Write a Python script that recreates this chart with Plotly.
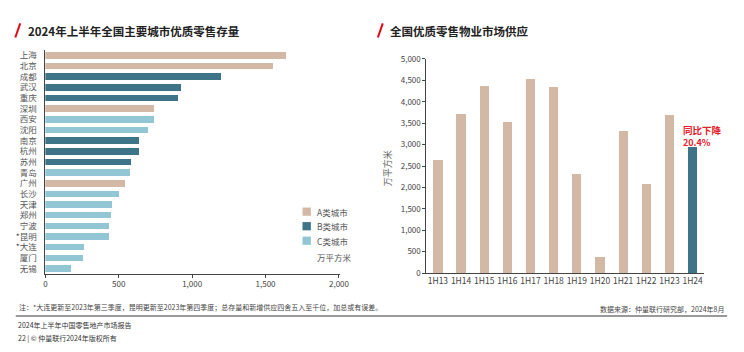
import plotly.graph_objects as go

W, H = 744, 352
def px(x): return x / W
def py(y): return 1 - y / H

FONT = "Noto Sans CJK SC, Open Sans, sans-serif"

# ---- Left chart data ----
cities = ["上海", "北京", "成都", "武汉", "重庆", "深圳", "西安", "沈阳", "南京", "杭州",
          "苏州", "青岛", "广州", "长沙", "天津", "郑州", "宁波", "*昆明", "*大连", "厦门", "无锡"]
stock = [1640, 1550, 1198, 925, 907, 739, 737, 699, 639, 635,
         585, 578, 545, 505, 456, 449, 436, 431, 261, 255, 176]
city_class = ["A", "A", "B", "B", "B", "A", "C", "C", "B", "B",
              "B", "C", "A", "C", "C", "C", "C", "C", "C", "C", "C"]
class_order = ["A", "B", "C"]
class_names = {"A": "A类城市", "B": "B类城市", "C": "C类城市"}
class_colors = {"A": "#D2B8A5", "B": "#3E7487", "C": "#93C6D4"}

# ---- Right chart data ----
periods = ["1H13", "1H14", "1H15", "1H16", "1H17", "1H18", "1H19", "1H20", "1H21", "1H22", "1H23", "1H24"]
supply = [2640, 3726, 4376, 3523, 4541, 4337, 2308, 378, 3326, 2090, 3693, 2940]
supply_colors = ["#D2B8A5"] * 11 + ["#3E7487"]

x_ticks_left = [0, 500, 1000, 1500, 2000]
y_ticks_right = list(range(0, 5001, 500))

fig = go.Figure()

for cls in class_order:
    ys = [c for c, k in zip(cities, city_class) if k == cls]
    xs = [v for v, k in zip(stock, city_class) if k == cls]
    fig.add_trace(go.Bar(
        x=xs, y=ys, orientation="h", name=class_names[cls],
        marker=dict(color=class_colors[cls], line=dict(width=0)),
        xaxis="x", yaxis="y", showlegend=False))

fig.add_trace(go.Bar(
    x=periods, y=supply, marker=dict(color=supply_colors, line=dict(width=0)),
    xaxis="x2", yaxis="y2", showlegend=False, width=0.4))

# reference line at 1H24 level
fig.add_trace(go.Scatter(
    x=[-0.2, len(periods) - 1 - 0.2], y=[supply[-1], supply[-1]],
    mode="lines", line=dict(color="#4FA8C4", width=1.2, dash="dot"),
    xaxis="x2", yaxis="y2", showlegend=False, hoverinfo="skip"))

axis_grey = "#444444"
tick_font = dict(family=FONT, size=8, color="#444444")

fig.update_layout(
    width=W, height=H, margin=dict(l=0, r=0, t=0, b=0),
    paper_bgcolor="white", plot_bgcolor="white",
    barmode="stack", bargap=0.39, showlegend=False,
    font=dict(family=FONT, color="#333333"),
    xaxis=dict(domain=[px(44), px(343.5)], range=[0, 2010], tickvals=x_ticks_left,
               tickformat=",d", showgrid=False, zeroline=False, showline=True,
               linecolor=axis_grey, linewidth=1, ticks="outside", ticklen=3,
               tickcolor=axis_grey, tickfont=tick_font, anchor="y"),
    yaxis=dict(domain=[py(276.5), py(45.5)], type="category", categoryorder="array",
               categoryarray=cities, autorange="reversed", showgrid=False, zeroline=False,
               tickmode="array", tickvals=cities, ticktext=cities,
               showline=True, linecolor=axis_grey, linewidth=1, ticks="",
               ticklabelstandoff=6,
               tickfont=dict(family=FONT, size=8.5, color="#555555"), anchor="x"),
    xaxis2=dict(domain=[px(430.7), px(712.7)], type="category", showgrid=False,
                zeroline=False, showline=True, linecolor=axis_grey, linewidth=1,
                ticks="", tickfont=dict(family=FONT, size=8.5, color="#444444"),
                anchor="y2", range=[-0.5, len(periods) - 0.5]),
    yaxis2=dict(domain=[py(275.7), py(54.7)], range=[0, 5000], tickvals=y_ticks_right,
                tickformat=",d", showgrid=False, zeroline=False, showline=True,
                linecolor=axis_grey, linewidth=1, ticks="outside", ticklen=3,
                tickcolor=axis_grey, tickfont=tick_font, anchor="x2"),
)

def ann(text, x, y, xanchor="left", size=8.5, color="#333333", **kw):
    return dict(text=text, x=px(x), y=py(y), xref="paper", yref="paper",
                xanchor=xanchor, yanchor="middle", showarrow=False,
                font=dict(family=FONT, size=size, color=color), **kw)

annotations = [
    ann("<b>2024年上半年全国主要城市优质零售存量</b>", 24, 25.5, size=11.5, color="#222222"),
    ann("<b>全国优质零售物业市场供应</b>", 392, 25.5, size=11.5, color="#222222"),
    ann("万平方米", 318, 258.7, size=8.5, color="#555555"),
    ann("万平方米", 391.3, 168, xanchor="center", size=9, color="#666666", textangle=-90),
    ann("<b>同比下降</b>", 689, 128.5, size=9.5, color="#E5202B"),
    ann("<b>20.4%</b>", 689, 140.5, size=9, color="#E5202B"),
    ann("注：*大连更新至2023年第三季度，昆明更新至2023年第四季度；总存量和新增供应四舍五入至千位，加总或有误差。",
        15, 311, size=7, color="#444444"),
    ann("数据来源：仲量联行研究部，2024年8月", 735, 312.5, xanchor="right", size=7, color="#444444"),
    ann("2024年上半年中国零售地产市场报告", 14, 329.5, size=7, color="#333333"),
    ann("22 | © 仲量联行2024年版权所有", 14, 342.5, size=7, color="#333333"),
]

shapes = [
    dict(type="line", xref="paper", yref="paper", x0=px(13.5), y0=py(32.5), x1=px(18.5), y1=py(18),
         line=dict(color="#E30613", width=2)),
    dict(type="line", xref="paper", yref="paper", x0=px(381.5), y0=py(32.5), x1=px(386.5), y1=py(18),
         line=dict(color="#E30613", width=2)),
    dict(type="line", xref="paper", yref="paper", x0=px(14), y0=py(320), x1=px(736), y1=py(320),
         line=dict(color="#9A9A9A", width=2)),
]

# custom legend (swatch + label) for the city classes
for i, cls in enumerate(class_order):
    yc = 212.3 + 15 * i
    shapes.append(dict(type="rect", xref="paper", yref="paper",
                       x0=px(305), x1=px(313.5), y0=py(yc + 4.25), y1=py(yc - 4.25),
                       fillcolor=class_colors[cls], line=dict(width=0)))
    annotations.append(ann(class_names[cls], 317.5, yc, size=8.5, color="#555555"))

fig.update_layout(annotations=annotations, shapes=shapes)

fig.write_html("out.html")
